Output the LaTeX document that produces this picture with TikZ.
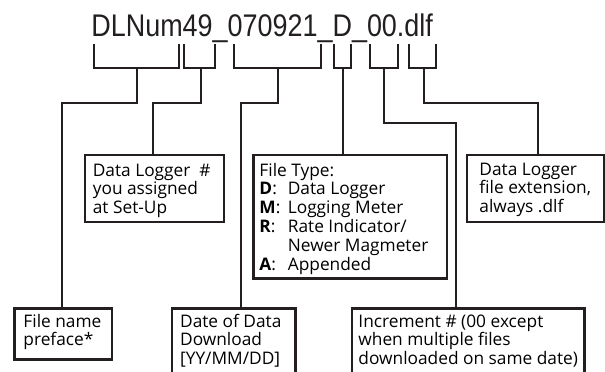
\documentclass[tikz,border=0pt]{standalone}
\usepackage{fontspec}
\setmainfont{Open Sans}
\newfontfamily\titlefont[FakeStretch=0.861]{Liberation Sans}
\definecolor{ink}{RGB}{35,31,32}
\newcommand\bxt[5]{\parbox[t][#2pt][t]{#1pt}{\raggedright\leftskip=#3pt\fontsize{17.3}{18.8}\selectfont\rule{0pt}{#4pt}#5}}
\tikzset{
  box/.style={draw=ink, line width=2.3pt, inner sep=0pt, anchor=north west, text=black},
  brk/.style={draw=ink, line width=2.3pt, line join=miter},
  ttl/.style={inner sep=0pt, anchor=base west, text=ink, font=\titlefont\fontsize{31.3}{36}\selectfont}
}
\begin{document}
\begin{tikzpicture}[x=1pt,y=-1pt]
\useasboundingbox (0,0) rectangle (605,372);
\clip (0,0) rectangle (605,372);
\fill[white] (0,0) rectangle (605,372);
\node[ttl] (title) at (91.2,36.7) {DLNum49\_070921\_D\_00.dlf};
% boxes
\node[box] (dl) at (84,154) {\bxt{138.7}{67}{7.7}{21}{Data Logger~~\#\\ you assigned\\ at Set-Up}};
\node[box] (ft) at (252.3,154) {\bxt{193.4}{123.3}{6}{21}{File Type:\\
\makebox[28.4pt][l]{\textbf{D}:}Data Logger\\
\makebox[28.4pt][l]{\textbf{M}:}Logging Meter\\
\makebox[28.4pt][l]{\textbf{R}:}Rate Indicator/\\
\hspace*{28.4pt}Newer Magmeter\\
\makebox[28.4pt][l]{\textbf{A}:}Appended}};
\node[box] (ext) at (465.7,154) {\bxt{137.6}{66.7}{12.6}{20}{Data Logger\\ file extension,\\ always .dlf}};
\node[box] (pref) at (13.3,307.3) {\bxt{97.7}{51}{9}{18.7}{File name\\ preface*}};
\node[box] (date) at (171,307.3) {\bxt{123.3}{80}{8}{18.7}{Date of Data\\ Download\\ {[}YY/MM/DD{]}}};
\node[box] (inc) at (350.7,307.3) {\bxt{232.6}{80}{6.6}{18.7}{Increment \# (00 except\\ when multiple files\\ downloaded on same date)}};
% brackets
\draw[brk] (94,44.3) -- (94,68.3) -- (179,68.3) -- (179,44.3);
\draw[brk] (136.7,68.3) |- (62.3,102.7) -- (62.3,0 |- pref.north);
\draw[brk] (184.3,44.3) -- (184.3,68.3) -- (215,68.3) -- (215,44.3);
\draw[brk] (200.7,68.3) |- (153.3,102.7) -- (153.3,0 |- dl.north);
\draw[brk] (234.3,44.3) -- (234.3,68.3) -- (320.7,68.3) -- (320.7,44.3);
\draw[brk] (278.3,68.3) |- (241,102.7) -- (241,0 |- date.north);
\draw[brk] (334,44.3) -- (334,68.3) -- (350.7,68.3) -- (350.7,44.3);
\draw[brk] (342.7,68.3) -- (342.7,0 |- ft.north);
\draw[brk] (370,44.3) -- (370,68.3) -- (398.3,68.3) -- (398.3,44.3);
\draw[brk] (384.3,68.3) |- (456,123.3) -- (456,0 |- inc.north);
\draw[brk] (409,44.3) -- (409,68.3) -- (435.7,68.3) -- (435.7,44.3);
\draw[brk] (424.3,68.3) |- (538.3,102.7) -- (538.3,0 |- ext.north);
\end{tikzpicture}
\end{document}
